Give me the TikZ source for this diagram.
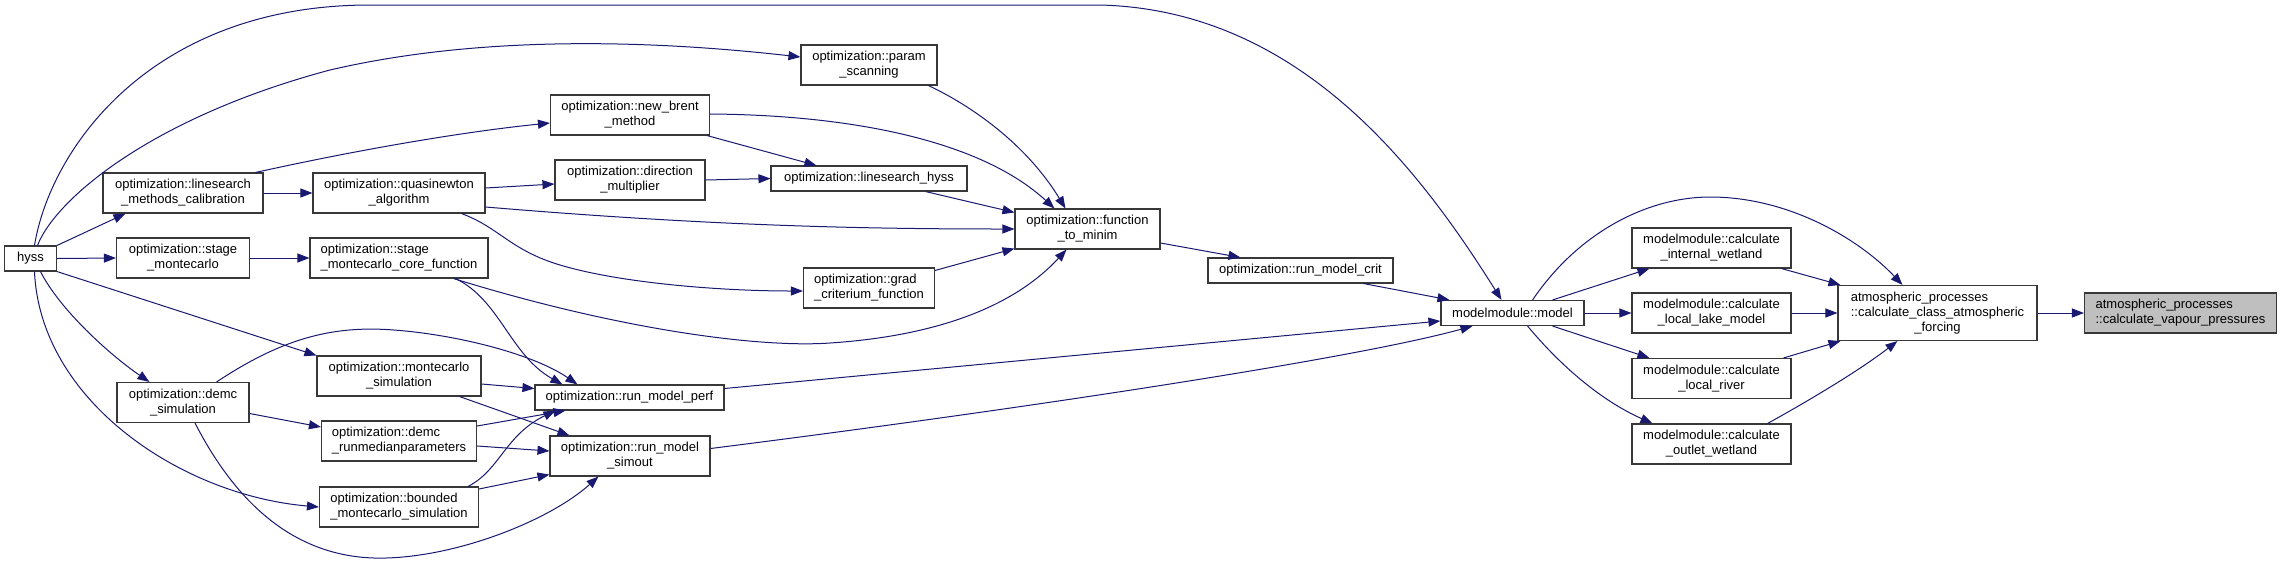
\documentclass[tikz,border=0pt]{standalone}
\usepackage{fontspec}
\newfontfamily\nodefont{Liberation Sans}
\usetikzlibrary{arrows.meta,calc}
\definecolor{edgec}{HTML}{191970}
\definecolor{boxc}{HTML}{383838}
\definecolor{selc}{HTML}{BFBFBF}
\tikzset{
  box/.style={draw=boxc, line width=1.1pt, fill=white, inner sep=0pt, align=center,
    font={\nodefont\fontsize{13}{15}\selectfont}, minimum height=40pt},
  boxl/.style={box, align=left},
  e/.style={draw=edgec, line width=1pt, -{Triangle[length=12pt,width=9pt]}},
}
\begin{document}
\begin{tikzpicture}[x=1pt,y=-1pt]
\fill[white] (0,0) rectangle (2281,566);
\useasboundingbox (0,0) rectangle (2281,566);
% nodes
\node[box, minimum width=52pt, minimum height=25pt] (hyss) at (30.5,258.5) {hyss};
\node[box, minimum width=160pt] (lmc) at (183,193) {optimization::linesearch\\\_methods\_calibration};
\node[box, minimum width=133pt] (stagemc) at (183,258) {optimization::stage\\\_montecarlo};
\node[box, minimum width=132pt] (demcsim) at (183,402.5) {optimization::demc\\\_simulation};
\node[box, minimum width=172pt] (quasi) at (399,193) {optimization::quasinewton\\\_algorithm};
\node[boxl, minimum width=178pt] (core) at (399,258) {optimization::stage\\\_montecarlo\_core\_function};
\node[box, minimum width=164pt] (mcsim) at (399,376) {optimization::montecarlo\\\_simulation};
\node[boxl, minimum width=155pt] (runmed) at (399,441) {optimization::demc\\\_runmedianparameters};
\node[boxl, minimum width=159pt] (bounded) at (399,507) {optimization::bounded\\\_montecarlo\_simulation};
\node[box, minimum width=136pt] (param) at (869,65) {optimization::param\\\_scanning};
\node[box, minimum width=159pt] (brent) at (630,115) {optimization::new\_brent\\\_method};
\node[box, minimum width=150pt] (dirmul) at (630,180) {optimization::direction\\\_multiplier};
\node[box, minimum width=196pt, minimum height=25pt] (lshyss) at (869,178.5) {optimization::linesearch\_hyss};
\node[boxl, minimum width=131pt] (grad) at (869,288) {optimization::grad\\\_criterium\_function};
\node[box, minimum width=189pt, minimum height=25pt] (perf) at (629.5,397.5) {optimization::run\_model\_perf};
\node[box, minimum width=160pt] (simout) at (630,456) {optimization::run\_model\\\_simout};
\node[box, minimum width=145pt] (ftm) at (1087.5,229) {optimization::function\\\_to\_minim};
\node[box, minimum width=185pt, minimum height=25pt] (crit) at (1300.5,270.5) {optimization::run\_model\_crit};
\node[box, minimum width=143pt, minimum height=25pt] (model) at (1512.5,313) {modelmodule::model};
\node[box, minimum width=159pt] (internal) at (1711.5,248) {modelmodule::calculate\\\_internal\_wetland};
\node[box, minimum width=159pt] (lake) at (1711.5,313) {modelmodule::calculate\\\_local\_lake\_model};
\node[box, minimum width=159pt] (river) at (1711.5,378.5) {modelmodule::calculate\\\_local\_river};
\node[box, minimum width=159pt] (outlet) at (1711.5,444) {modelmodule::calculate\\\_outlet\_wetland};
\node[box, minimum width=199pt, minimum height=55pt] (class) at (1937.5,313) {\begin{tabular}{@{}l@{}}atmospheric\_processes\\::calculate\_class\_atmospheric\\\multicolumn{1}{@{}c@{}}{\_forcing}\end{tabular}};
\node[boxl, fill=selc, minimum width=192pt] (vapour) at (2180.5,313) {atmospheric\_processes\\::calculate\_vapour\_pressures};
% edges
\draw[e] (hyss.north east) -- ($(lmc.south west)+(23,0)$);
\draw[e] (hyss.east) -- (stagemc.west);
\draw[e] ($(hyss.south)+(10,0)$) .. controls (60,310) and (110,355) .. ($(demcsim.north west)+(33,0)$);
\draw[e] (hyss.south east) -- (mcsim.north west);
\draw[e] ($(hyss.south)+(4,0)$) .. controls (40,400) and (180,495) .. (bounded.west);
\draw[e] ($(hyss.north)+(7,0)$) .. controls (55,200) and (150,118) .. (330,70) .. controls (480,35) and (650,40) .. ($(param.west)+(0,-8)$);
\draw[e] ($(hyss.north)+(4,0)$) .. controls (50,150) and (150,5) .. (370,5) -- (1100,5) .. controls (1300,10) and (1420,170) .. ($(model.north)+(-11,0)$);
\draw[e] ($(lmc.north east)+(-8,0)$) .. controls (380,145) and (480,130) .. ($(brent.west)+(0,8)$);
\draw[e] (lmc.east) -- (quasi.west);
\draw[e] ($(quasi.east)+(0,-5)$) -- ($(dirmul.west)+(0,4)$);
\draw[e] ($(quasi.east)+(0,14)$) .. controls (700,225) and (850,229) .. (ftm.west);
\draw[e] ($(quasi.south east)+(-24,0)$) .. controls (500,228) and (510,250) .. (560,265) .. controls (620,283) and (720,291) .. ($(grad.west)+(0,3)$);
\draw[e] (stagemc.east) -- (core.west);
\draw[e] ($(core.south east)+(-35,0)$) .. controls (620,330) and (760,348) .. (830,343) .. controls (950,335) and (1020,300) .. ($(ftm.south)+(-21,0)$);
\draw[e] ($(core.south east)+(-33,0)$) .. controls (500,300) and (510,355) .. ($(perf.north west)+(28,0)$);
\draw[e] ($(demcsim.north east)+(-33,0)$) .. controls (280,340) and (330,325) .. (394,330) .. controls (460,335) and (535,355) .. ($(perf.north west)+(43,0)$);
\draw[e] ($(demcsim.east)+(0,11)$) -- ($(runmed.west)+(0,-14)$);
\draw[e] ($(demcsim.south)+(12,0)$) .. controls (250,530) and (320,560) .. (386,558) .. controls (460,556) and (550,520) .. ($(simout.south west)+(49,0)$);
\draw[e] ($(mcsim.east)+(0,8)$) -- ($(perf.west)+(0,-9)$);
\draw[e] ($(mcsim.south east)+(-22,0)$) -- ($(simout.north west)+(20,0)$);
\draw[e] ($(runmed.east)+(0,-15)$) -- ($(perf.south west)+(31,0)$);
\draw[e] ($(runmed.east)+(0,5)$) -- ($(simout.west)+(0,-5)$);
\draw[e] ($(bounded.north east)+(-11,0)$) .. controls (500,470) and (505,435) .. ($(perf.south west)+(21,0)$);
\draw[e] ($(bounded.east)+(0,-18)$) -- ($(simout.south west)+(0,-2)$);
\draw[e] ($(brent.east)+(0,-1)$) .. controls (850,115) and (980,140) .. ($(ftm.north west)+(40,0)$);
\draw[e] ($(brent.south east)+(-3,0)$) -- ($(lshyss.north west)+(46,0)$);
\draw[e] (dirmul.east) -- (lshyss.west);
\draw[e] ($(param.south east)+(-9,0)$) .. controls (980,110) and (1030,150) .. ($(ftm.north west)+(51,0)$);
\draw[e] ($(lshyss.south east)+(-42,0)$) -- ($(ftm.north west)+(0,4)$);
\draw[e] ($(grad.north east)+(0,3)$) -- ($(ftm.south west)+(0,-1)$);
\draw[e] ($(ftm.east)+(0,14)$) -- ($(crit.north west)+(33,0)$);
\draw[e] ($(crit.south east)+(-30,0)$) -- ($(model.north west)+(9,0)$);
\draw[e] ($(perf.east)+(0,-9)$) -- ($(model.west)+(0,8)$);
\draw[e] ($(simout.east)+(0,-7.5)$) .. controls (1000,412) and (1350,360) .. ($(model.south west)+(32,0)$);
\draw[e] ($(model.north east)+(-32,0)$) -- ($(internal.south west)+(18,0)$);
\draw[e] (model.east) -- (lake.west);
\draw[e] ($(model.south east)+(-32,0)$) -- ($(river.north west)+(18,0)$);
\draw[e] ($(model.south east)+(-57,0)$) .. controls (1560,365) and (1600,400) .. ($(outlet.north west)+(21,0)$);
\draw[e] ($(model.north east)+(-52,0)$) .. controls (1580,230) and (1650,197) .. (1710,197) .. controls (1790,197) and (1860,240) .. ($(class.north west)+(65,0)$);
\draw[e] ($(internal.south east)+(-10,0)$) -- ($(class.north west)+(3,0)$);
\draw[e] (lake.east) -- (class.west);
\draw[e] ($(river.north east)+(-8,0)$) -- ($(class.south west)+(3,0)$);
\draw[e] ($(outlet.north east)+(-24,0)$) .. controls (1810,400) and (1860,370) .. ($(class.south west)+(60,0)$);
\draw[e] (class.east) -- (vapour.west);
\end{tikzpicture}
\end{document}
